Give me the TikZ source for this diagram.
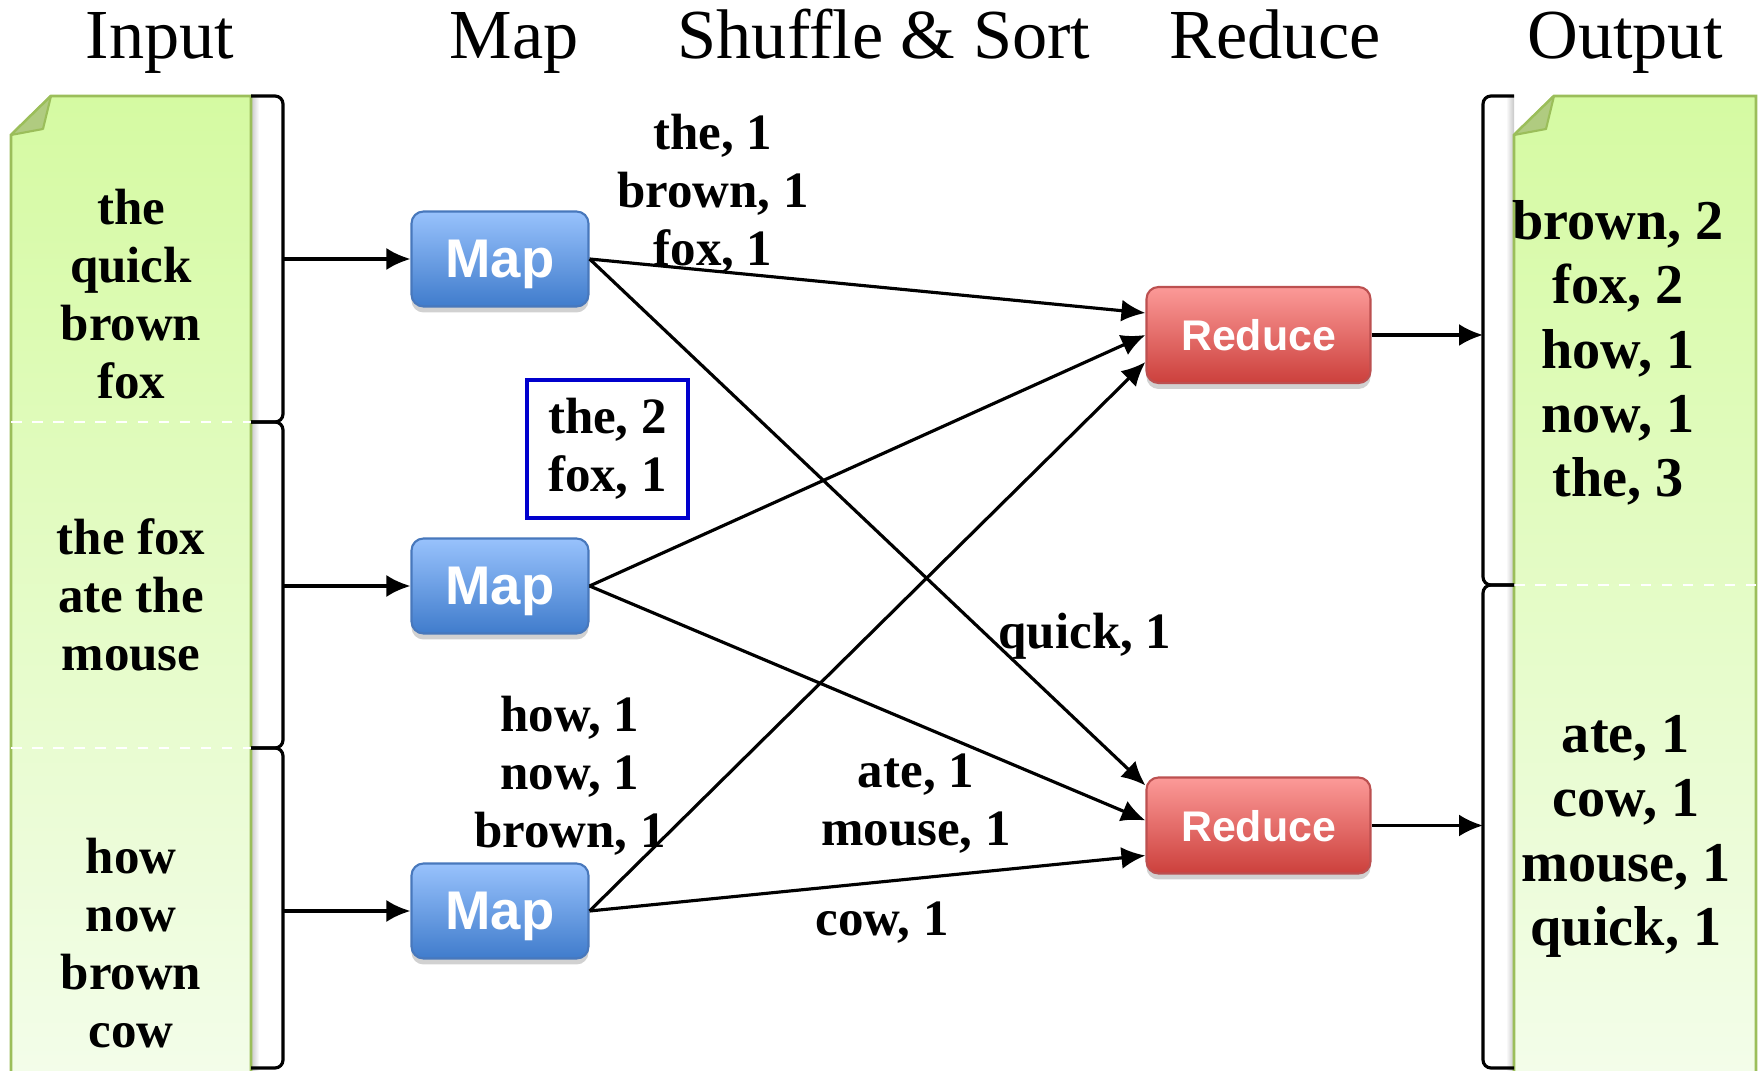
\documentclass[tikz,border=0pt]{standalone}
\usepackage{fontspec}
\setmainfont{Liberation Serif}
\newfontfamily\boxfont{Liberation Sans}
\usetikzlibrary{arrows.meta,shadows}

\definecolor{pagetop}{RGB}{213,250,162}
\definecolor{pagebot}{RGB}{243,253,233}
\definecolor{pageline}{RGB}{155,190,90}
\definecolor{foldfill}{RGB}{176,203,128}
\definecolor{maptop}{RGB}{152,194,252}
\definecolor{mapbot}{RGB}{64,124,204}
\definecolor{mapline}{RGB}{72,120,188}
\definecolor{redtop}{RGB}{252,154,152}
\definecolor{redbot}{RGB}{204,64,60}
\definecolor{redline}{RGB}{188,80,80}
\definecolor{keyblue}{RGB}{0,0,205}

\tikzset{
  header/.style={anchor=base, inner sep=0pt, font=\fontsize{20}{24}\selectfont},
  words/.style={align=center, inner sep=0pt, font=\bfseries\fontsize{14.5}{16.5}\selectfont},
  result/.style={align=center, inner sep=0pt, font=\bfseries\fontsize{16}{18.3}\selectfont},
  mapbox/.style={rectangle, rounded corners=0.12cm, draw=mapline, line width=0.6pt,
    top color=maptop, bottom color=mapbot, minimum width=1.77cm, minimum height=0.95cm,
    text=white, text depth=0pt, font=\boxfont\bfseries\fontsize{15.5}{18}\selectfont,
    drop shadow={shadow xshift=0pt, shadow yshift=-0.06cm, opacity=0.3, fill=black!60}},
  reducebox/.style={mapbox, draw=redline, top color=redtop, bottom color=redbot,
    minimum width=2.24cm, minimum height=0.96cm,
    font=\boxfont\bfseries\fontsize{12.2}{15}\selectfont},
  flow/.style={-{Latex[length=0.24cm,width=0.22cm]}, line width=0.9pt},
  bracket/.style={line width=0.9pt, rounded corners=0.08cm},
}

% #1 left edge, #2 right edge of a page
\newcommand{\docpage}[2]{
  \shade[top color=pagetop, bottom color=pagebot]
    (#1,0) -- (#1,9.36) -- ++(0.40,0.39) -- (#2,9.75) -- (#2,0) -- cycle;
  \draw[pageline, line width=0.8pt]
    (#1,0) -- (#1,9.36) -- ++(0.40,0.39) -- (#2,9.75) -- (#2,0);
  \draw[pageline, fill=foldfill, line width=0.6pt, line join=round]
    (#1,9.36) -- ++(0.40,0.39) -- ++(-0.08,-0.33) -- cycle;
}

% #1 hook end, #2 spine, #3 top, #4 bottom
\newcommand{\bracketline}[4]{
  \draw[bracket] (#1,#3) -- (#2,#3) -- (#2,#4) -- (#1,#4);
}

\begin{document}
\begin{tikzpicture}
  \useasboundingbox (0,0) rectangle (17.58,10.71);

  \shade[left color=black!22, right color=white] (2.51,0) rectangle (2.59,9.75);
  \shade[left color=white, right color=black!22] (15.06,0) rectangle (15.14,9.75);
  \docpage{0.11}{2.51}
  \docpage{15.14}{17.56}

  \draw[white, dashed, line width=0.6pt] (0.11,6.49) -- (2.51,6.49);
  \draw[white, dashed, line width=0.6pt] (0.11,3.23) -- (2.51,3.23);
  \draw[white, dashed, line width=0.6pt] (15.14,4.86) -- (17.56,4.86);

  \bracketline{2.51}{2.83}{9.75}{6.49}
  \bracketline{2.51}{2.83}{6.49}{3.23}
  \bracketline{2.51}{2.83}{3.23}{0.03}
  \bracketline{15.14}{14.83}{9.75}{4.86}
  \bracketline{15.14}{14.83}{4.86}{0.03}

  \node[header] (hin)  at (1.60,10.12) {Input};
  \node[header] (hmap) at (5.14,10.12) {Map};
  \node[header] (hsh)  at (8.84,10.12) {Shuffle \& Sort};
  \node[header] (hred) at (12.75,10.12) {Reduce};
  \node[header] (hout) at (16.25,10.12) {Output};

  \node[words] (in1) at (1.31,7.77) {the\\quick\\brown\\fox};
  \node[words] (in2) at (1.31,4.76) {the fox\\ate the\\mouse};
  \node[words] (in3) at (1.31,1.275) {how\\now\\brown\\cow};

  \node[result] (out1) at (16.18,7.18) {brown, 2\\fox, 2\\how, 1\\now, 1\\the, 3};
  \node[result] (out2) at (16.26,2.345) {ate, 1\\cow, 1\\mouse, 1\\quick, 1};

  \node[mapbox] (m1) at (5.0,8.12) {Map};
  \node[mapbox] (m2) at (5.0,4.85) {Map};
  \node[mapbox] (m3) at (5.0,1.60) {Map};

  \node[reducebox] (r1) at (12.585,7.36) {Reduce};
  \node[reducebox] (r2) at (12.585,2.455) {Reduce};

  \coordinate (bi1) at (2.83,8.12);
  \coordinate (bi2) at (2.83,4.85);
  \coordinate (bi3) at (2.83,1.60);
  \coordinate (bo1) at (14.83,7.36);
  \coordinate (bo2) at (14.83,2.455);

  \node[words] (kv1) at (7.13,8.775) {the, 1\\brown, 1\\fox, 1};
  \node[words, draw=keyblue, line width=1.4pt, minimum width=1.61cm,
    minimum height=1.38cm] (kv2) at (6.075,6.22) {the, 2\\fox, 1};
  \node[words] (kv3) at (10.85,4.345) {quick, 1};
  \node[words] (kv4) at (5.70,2.95) {how, 1\\now, 1\\brown, 1};
  \node[words] (kv5) at (9.16,2.67) {ate, 1\\mouse, 1};
  \node[words] (kv6) at (8.82,1.485) {cow, 1};

  \draw[flow] (bi1) -- (m1.west);
  \draw[flow] (bi2) -- (m2.west);
  \draw[flow] (bi3) -- (m3.west);

  \draw[flow] (m1.east) -- ([yshift=0.22cm]r1.west);
  \draw[flow] (m1.east) -- ([yshift=0.40cm]r2.west);
  \draw[flow] (m2.east) -- (r1.west);
  \draw[flow] (m2.east) -- ([yshift=0.05cm]r2.west);
  \draw[flow] (m3.east) -- ([yshift=-0.27cm]r1.west);
  \draw[flow] (m3.east) -- ([yshift=-0.30cm]r2.west);

  \draw[flow] (r1.east) -- (bo1);
  \draw[flow] (r2.east) -- (bo2);
\end{tikzpicture}
\end{document}
